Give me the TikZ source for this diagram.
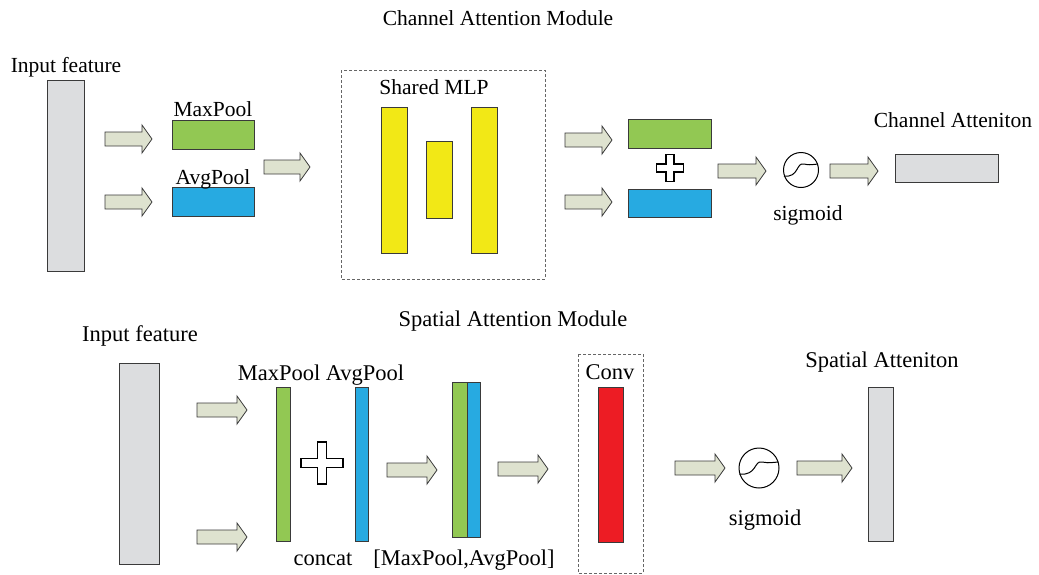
\documentclass[tikz,border=0pt]{standalone}
\usepackage{fontspec}
\setmainfont{Liberation Serif}
\definecolor{cgray}{HTML}{DCDDDF}
\definecolor{cgreen}{HTML}{92C853}
\definecolor{cblue}{HTML}{27AAE1}
\definecolor{cyellow}{HTML}{F2E816}
\definecolor{cred}{HTML}{ED1C24}
\definecolor{carrow}{HTML}{DEE2CF}
\definecolor{cline}{HTML}{3A3A3A}
\newcommand\rbox[6]{\node[blk,fill=#2,minimum width={(#5-#3)*1pt},minimum height={(#6-#4)*1pt}] (#1) at ({(#3+#5)/2},{(#4+#6)/2}) {};}
\newcommand\barrow[3]{\draw[barr] (#1,{#3-7}) -- ({#2-10},{#3-7}) -- ({#2-10},{#3-14}) -- (#2,#3) -- ({#2-10},{#3+14}) -- ({#2-10},{#3+7}) -- (#1,{#3+7}) -- cycle;}
\newcommand\plusmark[4]{\draw[plusst] ({#1-#4},{#2-#3}) -- ({#1+#4},{#2-#3}) -- ({#1+#4},{#2-#4}) -- ({#1+#3},{#2-#4}) -- ({#1+#3},{#2+#4}) -- ({#1+#4},{#2+#4}) -- ({#1+#4},{#2+#3}) -- ({#1-#4},{#2+#3}) -- ({#1-#4},{#2+#4}) -- ({#1-#3},{#2+#4}) -- ({#1-#3},{#2-#4}) -- ({#1-#4},{#2-#4}) -- cycle;}
\newcommand\sigm[4]{\node[sigc,minimum size={2*#4*1pt}] (#1) at (#2,#3) {};
  \draw[black,line width=1pt] ({#2-#4+0.5},{#3+6}) .. controls ({#2-2},{#3+8}) and ({#2-5},{#3-8}) .. ({#2+3},{#3-6}) .. controls ({#2+8},{#3-5}) .. ({#2+#4-0.5},{#3-6});}
\begin{document}
\begin{tikzpicture}[x=1pt,y=-1pt,
  blk/.style={draw=cline,line width=0.8pt,inner sep=0pt,outer sep=0pt,rectangle},
  barr/.style={draw=cline,line width=0.8pt,fill=carrow},
  plusst/.style={draw=black,line width=1.3pt,fill=white},
  sigc/.style={circle,draw=black,line width=1pt,inner sep=0pt,fill=white},
  dbox/.style={draw=black!60,line width=0.8pt,dash pattern=on 3pt off 2pt},
  lt/.style={font=\fontsize{21.5}{24}\selectfont,inner sep=0pt,anchor=base},
  lb/.style={font=\fontsize{22.5}{25}\selectfont,inner sep=0pt,anchor=base}]
\useasboundingbox (0,0) rectangle (1039,574);
% ---------- Channel attention ----------
\node[lt] (t1) at (498,25) {Channel Attention Module};
\node[lt] (in1l) at (66,72) {Input feature};
\rbox{in1}{cgray}{47}{80}{84}{271}
\barrow{105}{152}{139}
\barrow{105}{152}{202}
\rbox{mp1}{cgreen}{172}{120}{254}{149}
\rbox{ap1}{cblue}{172}{187}{254}{216}
\node[lt] (mp1l) at (213,116) {MaxPool};
\node[lt] (ap1l) at (213,184) {AvgPool};
\barrow{264}{310}{167}
\draw[dbox] (341,70) rectangle (545,279);
\node[lt] (mlpl) at (434,94) {Shared MLP};
\rbox{y1}{cyellow}{381}{107}{407}{253}
\rbox{y2}{cyellow}{426}{141}{452}{218}
\rbox{y3}{cyellow}{471}{107}{497}{253}
\barrow{565}{612}{140}
\barrow{565}{612}{202}
\rbox{g2}{cgreen}{628}{119}{711}{148}
\rbox{b2}{cblue}{628}{189}{711}{217}
\plusmark{670}{168}{13.5}{4}
\barrow{718}{766}{171}
\sigm{s1}{801}{170}{17.5}
\node[lt] (s1l) at (808,220) {sigmoid};
\barrow{830}{878}{171}
\rbox{ca}{cgray}{895}{154}{998}{182}
\node[lt] (cal) at (953,127) {Channel Atteniton};
% ---------- Spatial attention ----------
\node[lb] (t2) at (513,326) {Spatial Attention Module};
\node[lb] (in2l) at (140,341) {Input feature};
\rbox{in2}{cgray}{119}{363}{159}{564}
\barrow{197}{247}{410}
\barrow{197}{247}{537}
\rbox{mp2}{cgreen}{276}{387}{290}{541}
\rbox{ap2}{cblue}{355}{387}{368}{541}
\node[lb] (pl2) at (321,380) {MaxPool AvgPool};
\plusmark{322}{463}{21}{4.5}
\node[lb] (ccl) at (323,565) {concat};
\barrow{387}{437}{470}
\rbox{cg}{cgreen}{452}{382}{467}{537}
\rbox{cb}{cblue}{467}{382}{480}{537}
\node[lb] (cll) at (464,565) {[MaxPool,AvgPool]};
\barrow{498}{548}{469}
\draw[dbox] (578,354) rectangle (643,573);
\node[lb] (cvl) at (610,379) {Conv};
\rbox{cv}{cred}{598}{387}{623}{542}
\barrow{675}{725}{468}
\sigm{s2}{759}{468}{20}
\node[lb] (s2l) at (765,525) {sigmoid};
\barrow{797}{852}{468}
\rbox{sa}{cgray}{868}{387}{893}{541}
\node[lb] (sal) at (882,367) {Spatial Atteniton};
\end{tikzpicture}
\end{document}
